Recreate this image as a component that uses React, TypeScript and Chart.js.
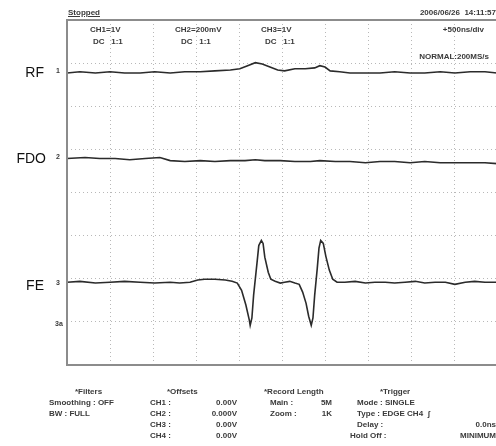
import React, { useEffect, useRef } from "react";
import { Chart, registerables } from "chart.js";

Chart.register(...registerables);

// Time axis in microseconds (500 ns/div, 10 divisions); amplitudes in screen divisions (0..8)
const rfTime = [0.0, 0.15, 0.33, 0.5, 0.67, 0.85, 1.02, 1.2, 1.37, 1.55, 1.72, 1.9, 2.01, 2.1, 2.19, 2.27, 2.36, 2.45, 2.53, 2.65, 2.77, 2.88, 2.94, 3.0, 3.06, 3.17, 3.29, 3.47, 3.64, 3.81, 3.99, 4.16, 4.34, 4.51, 4.69, 4.86, 5.0];
const rfDiv = [6.77, 6.8, 6.77, 6.8, 6.77, 6.77, 6.8, 6.77, 6.8, 6.8, 6.82, 6.84, 6.87, 6.94, 7.01, 6.98, 6.91, 6.84, 6.82, 6.87, 6.87, 6.89, 6.94, 6.91, 6.82, 6.8, 6.77, 6.77, 6.77, 6.8, 6.77, 6.77, 6.8, 6.77, 6.8, 6.8, 6.77];

const fdoTime = [0.0, 0.21, 0.38, 0.56, 0.73, 0.91, 1.08, 1.2, 1.37, 1.55, 1.72, 1.9, 2.07, 2.19, 2.3, 2.48, 2.65, 2.83, 2.94, 3.12, 3.29, 3.47, 3.64, 3.81, 3.99, 4.16, 4.34, 4.51, 4.69, 4.86, 5.0];
const fdoDiv = [4.79, 4.81, 4.79, 4.79, 4.76, 4.79, 4.81, 4.74, 4.72, 4.74, 4.72, 4.74, 4.74, 4.76, 4.74, 4.74, 4.72, 4.72, 4.74, 4.72, 4.72, 4.69, 4.72, 4.72, 4.69, 4.72, 4.69, 4.69, 4.69, 4.69, 4.67];

const feTime = [0.0, 0.15, 0.33, 0.5, 0.67, 0.85, 1.02, 1.2, 1.31, 1.43, 1.52, 1.6, 1.72, 1.84, 1.92, 1.98, 2.03, 2.08, 2.12, 2.13, 2.15, 2.17, 2.21, 2.23, 2.26, 2.28, 2.3, 2.34, 2.37, 2.42, 2.48, 2.53, 2.59, 2.65, 2.7, 2.74, 2.78, 2.81, 2.84, 2.86, 2.88, 2.91, 2.93, 2.95, 2.98, 3.01, 3.05, 3.09, 3.14, 3.23, 3.35, 3.47, 3.58, 3.7, 3.81, 3.93, 4.05, 4.16, 4.28, 4.4, 4.51, 4.63, 4.74, 4.86, 5.0];
const feDiv = [1.92, 1.94, 1.9, 1.92, 1.94, 1.92, 1.9, 1.92, 1.9, 1.92, 1.97, 1.99, 1.99, 1.97, 1.94, 1.9, 1.73, 1.39, 1.04, 0.92, 1.09, 1.62, 2.38, 2.77, 2.89, 2.82, 2.5, 2.15, 1.99, 1.94, 1.9, 1.92, 1.94, 1.9, 1.87, 1.69, 1.43, 1.13, 0.92, 1.09, 1.62, 2.24, 2.71, 2.89, 2.82, 2.52, 2.2, 1.99, 1.92, 1.92, 1.94, 1.9, 1.92, 1.92, 1.9, 1.92, 1.94, 1.9, 1.92, 1.92, 1.87, 1.92, 1.94, 1.92, 1.92];

const traceNames = ["RF", "FDO", "FE"];
const headerChannels = ["CH1=1V", "CH2=200mV", "CH3=1V"];
const offsetLabels = ["CH1 :", "CH2 :", "CH3 :", "CH4 :"];
const offsetValues = ["0.00V", "0.000V", "0.00V", "0.00V"];

const txt: React.CSSProperties = {
  position: "absolute",
  fontFamily: "'Liberation Sans', Arial, sans-serif",
  fontSize: 8,
  lineHeight: "10px",
  color: "#3a3a3a",
  whiteSpace: "pre",
  fontWeight: "bold",
};

function T({ x, y, s, right, style }: { x: number; y: number; s: string; right?: boolean; style?: React.CSSProperties }) {
  const pos: React.CSSProperties = right ? { right: 496 - x, top: y - 5 } : { left: x, top: y - 5 };
  return <div style={{ ...txt, ...pos, ...style }}>{s}</div>;
}

const big: React.CSSProperties = {
  fontFamily: "'Liberation Sans', Arial, sans-serif",
  fontSize: 14,
  lineHeight: "16px",
  color: "#111",
  fontWeight: "normal",
};

export default function App() {
  const ref = useRef<HTMLCanvasElement>(null);
  useEffect(() => {
    const canvas = ref.current;
    if (!canvas) return;
    const mk = (t: number[], v: number[]) => t.map((x, i) => ({ x, y: v[i] }));
    const frame = {
      id: "frame",
      afterDraw(c: any) {
        const a = c.chartArea;
        const g = c.ctx;
        g.save();
        g.strokeStyle = "#8c8c8c";
        g.lineWidth = 2;
        g.strokeRect(a.left, a.top, a.right - a.left, a.bottom - a.top);
        g.restore();
      },
    };
    const common = { borderColor: "#2b2b2b", borderWidth: 1.6, pointRadius: 0, tension: 0, fill: false };
    const chart = new Chart(canvas, {
      type: "line",
      data: {
        datasets: [
          { label: traceNames[0], data: mk(rfTime, rfDiv), ...common },
          { label: traceNames[1], data: mk(fdoTime, fdoDiv), ...common },
          { label: traceNames[2], data: mk(feTime, feDiv), ...common },
        ],
      },
      options: {
        responsive: false,
        animation: false,
        events: [],
        layout: { padding: { left: 67, top: 20, right: 0, bottom: 81 } },
        plugins: { legend: { display: false }, tooltip: { enabled: false } },
        scales: {
          x: {
            type: "linear",
            min: 0,
            max: 5,
            ticks: { display: false, stepSize: 0.5 },
            grid: { color: "#b8b8b8", drawTicks: false, lineWidth: 1 },
            border: { display: false, dash: [1, 3] },
          },
          y: {
            type: "linear",
            min: 0,
            max: 8,
            ticks: { display: false, stepSize: 1 },
            grid: { color: "#b8b8b8", drawTicks: false, lineWidth: 1 },
            border: { display: false, dash: [1, 3] },
          },
        },
      },
      plugins: [frame],
    } as any);
    return () => chart.destroy();
  }, []);

  return (
    <div style={{ position: "absolute", left: 0, top: 0, width: 496, height: 446, overflow: "hidden", background: "#fff" }}>
      <canvas ref={ref} width={497} height={446} style={{ position: "absolute", left: 0, top: 0, width: 497, height: 446 }} />
      <T x={68} y={13} s="Stopped" style={{ textDecoration: "underline" }} />
      <T x={496} y={13} s="2006/06/26  14:11:57" right />
      <T x={90} y={30} s={headerChannels[0]} />
      <T x={93} y={42} s="DC   1:1" />
      <T x={175} y={30} s={headerChannels[1]} />
      <T x={181} y={42} s="DC   1:1" />
      <T x={261} y={30} s={headerChannels[2]} />
      <T x={265} y={42} s="DC   1:1" />
      <T x={484} y={30} s="+500ns/div" right />
      <T x={489} y={57} s="NORMAL:200MS/s" right />

      <div style={{ ...txt, ...big, position: "absolute", right: 496 - 44, top: 72 - 8 }}>{traceNames[0]}</div>
      <div style={{ ...txt, ...big, position: "absolute", right: 496 - 46, top: 158 - 8 }}>{traceNames[1]}</div>
      <div style={{ ...txt, ...big, position: "absolute", right: 496 - 44, top: 285 - 8 }}>{traceNames[2]}</div>
      <T x={56} y={71} s="1" style={{ fontSize: 7 }} />
      <T x={56} y={157} s="2" style={{ fontSize: 7 }} />
      <T x={56} y={283} s="3" style={{ fontSize: 7 }} />
      <T x={55} y={324} s="3a" style={{ fontSize: 7 }} />

      <T x={75} y={392} s="*Filters" />
      <T x={49} y={403} s="Smoothing : OFF" />
      <T x={49} y={414} s="BW : FULL" />

      <T x={167} y={392} s="*Offsets" />
      {offsetLabels.map((l, i) => (
        <T key={l} x={150} y={403 + i * 11} s={l} />
      ))}
      {offsetValues.map((v, i) => (
        <T key={"v" + i} x={237} y={403 + i * 11} s={v} right />
      ))}

      <T x={264} y={392} s="*Record Length" />
      <T x={270} y={403} s="Main :" />
      <T x={332} y={403} s="5M" right />
      <T x={270} y={414} s="Zoom :" />
      <T x={332} y={414} s="1K" right />

      <T x={380} y={392} s="*Trigger" />
      <T x={357} y={403} s="Mode : SINGLE" />
      <T x={357} y={414} s={"Type : EDGE CH4  \u0283"} />
      <T x={357} y={425} s="Delay :" />
      <T x={496} y={425} s="0.0ns" right />
      <T x={350} y={436} s="Hold Off :" />
      <T x={496} y={436} s="MINIMUM" right />
    </div>
  );
}
